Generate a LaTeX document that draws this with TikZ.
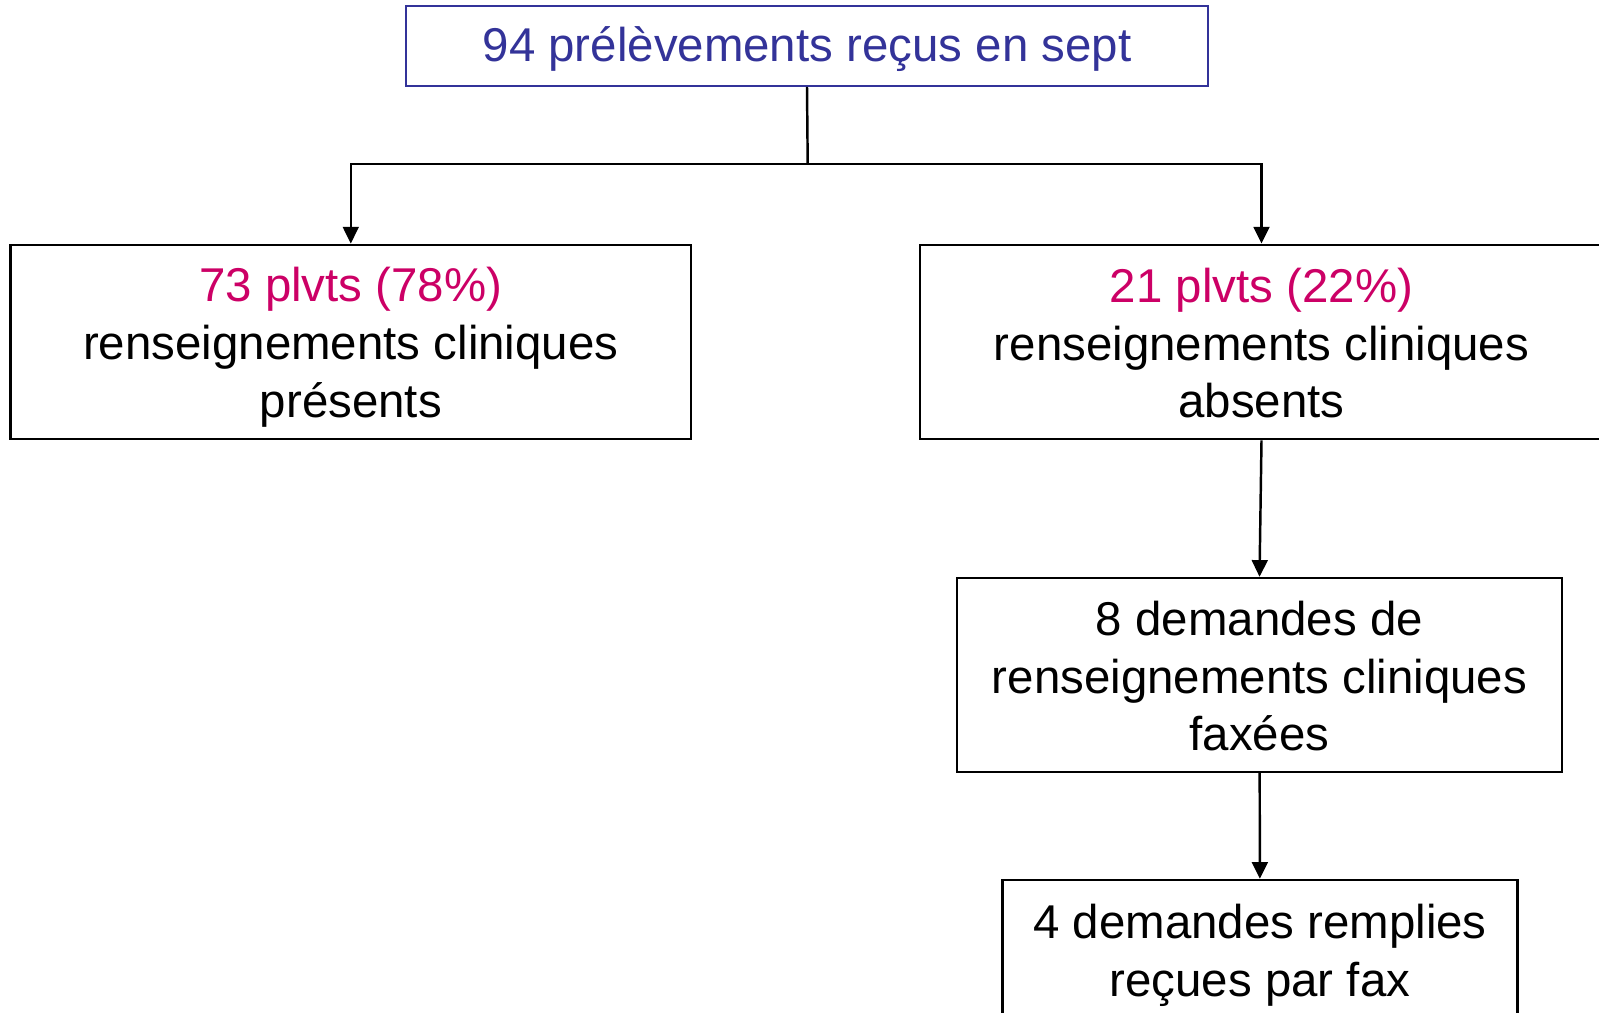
\documentclass[tikz,border=0pt]{standalone}
\usepackage{fontspec}
\setsansfont{Liberation Sans}
\usepackage{xcolor}
\usetikzlibrary{arrows.meta}
\definecolor{rcBlue}{HTML}{333399}
\definecolor{rcRose}{HTML}{CC0066}
\definecolor{rcInk}{HTML}{000000}
\newcommand{\rcTopStrut}{\rule{0pt}{25.5pt}}
\newcommand{\rcEndStrut}{\rule[-5pt]{0pt}{5pt}}
\tikzset{
  rc diagram/.style={font=\sffamily\fontsize{27pt}{33pt}\selectfont, text=rcInk,
    line join=miter},
  rc box/.style={draw=rcInk, fill=white, line width=1.4pt,
    align=center, inner sep=0pt, execute at end node=\rcEndStrut},
  rc title box/.style={rc box, draw=rcBlue, text=rcBlue,
    execute at begin node={\rule{0pt}{27.2pt}}, execute at end node=\strut},
  rc line/.style={draw=rcInk, line width=1.4pt},
  rc arrow/.style={rc line, -{Triangle[length=9.5pt,width=9pt]}},
  rc count/.style={text=rcRose}
}

\begin{document}
\begin{tikzpicture}[rc diagram,x=0.02cm,y=-0.02cm]
\useasboundingbox (0,0) rectangle (1599,1013);
\node[rc title box,minimum width=16.04cm,minimum height=1.59cm] (total) at (807,46)
  {94 prélèvements reçus en sept};
\node[rc box,minimum width=13.62cm,minimum height=3.89cm] (present) at (350.8,342)
  {\rcTopStrut\textcolor{rcRose}{73 plvts (78\%)}\\renseignements cliniques\\présents};
\node[rc box,minimum width=13.66cm,minimum height=3.89cm] (absent) at (1261.5,342)
  {\rcTopStrut\textcolor{rcRose}{21 plvts (22\%)}\\renseignements cliniques\\absents};
\node[rc box,minimum width=12.11cm,minimum height=3.88cm] (faxed) at (1259.5,675)
  {\rcTopStrut 8 demandes de\\renseignements cliniques\\faxées};
\node[rc box,minimum width=10.3cm,minimum height=2.8cm] (returned) at (1260,950)
  {\rcTopStrut 4 demandes remplies\\reçues par fax};
\coordinate (split) at (807.7,164);
\draw[rc line] (total.south) -- (split);
\draw[rc arrow] (split) -| (present.north);
\draw[rc arrow] (split) -| (absent.north);
\draw[rc arrow] (absent.south) -- (faxed.north);
\draw[rc arrow] (faxed) -- (returned);
\end{tikzpicture}
\end{document}
